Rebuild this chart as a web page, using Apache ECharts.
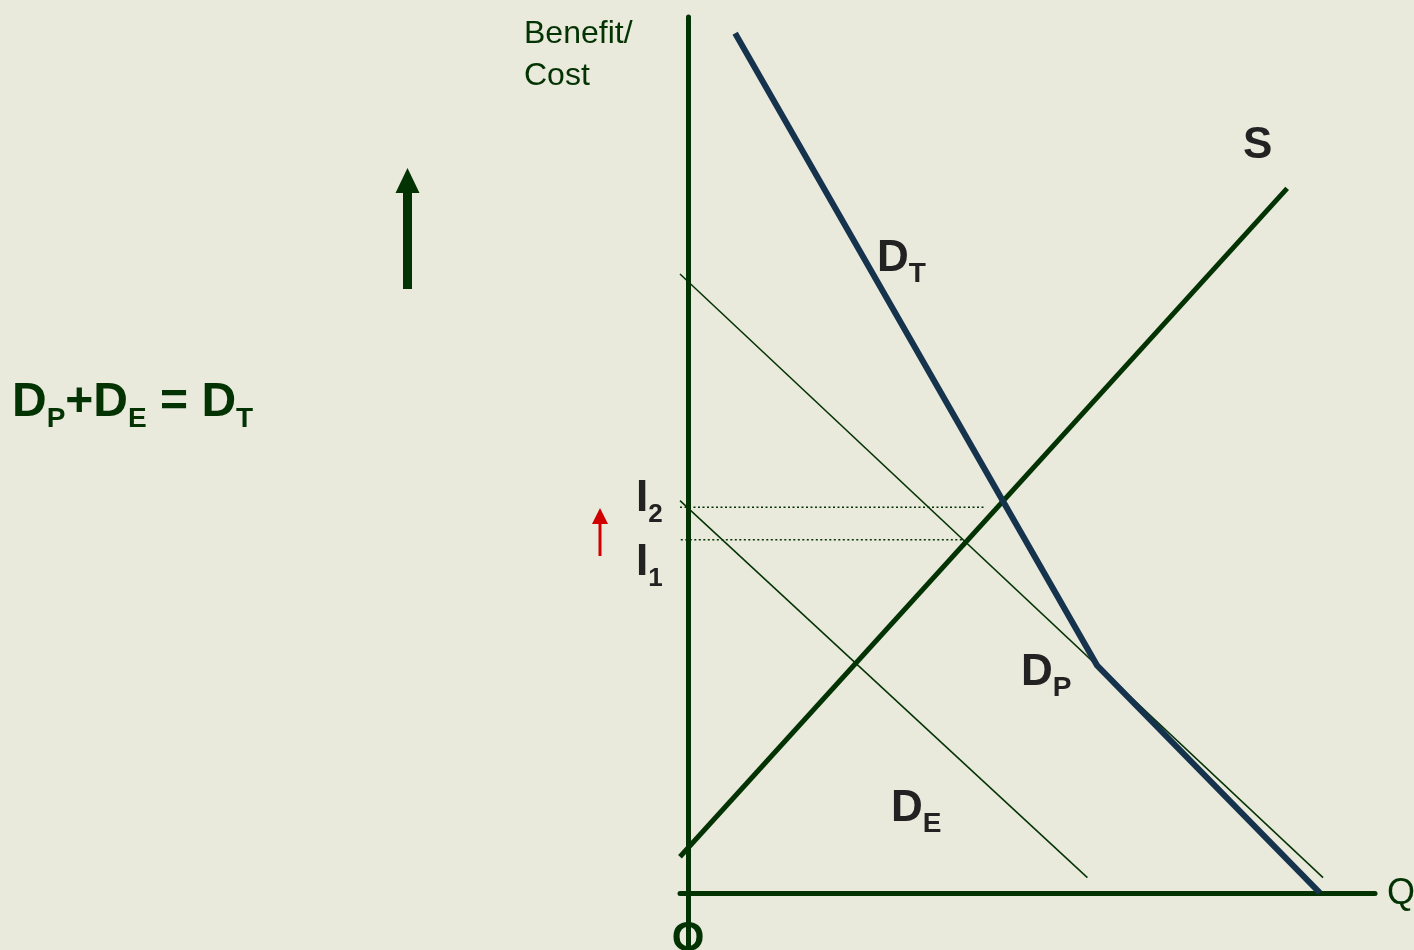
<!DOCTYPE html>
<html>
<head>
<meta charset="utf-8">
<script src="https://cdn.jsdelivr.net/npm/echarts@6/dist/echarts.min.js"></script>
<style>
  html, body { margin: 0; padding: 0; background: #e9e9dc; }
  #main { width: 1414px; height: 950px; }
</style>
</head>
<body>
<div id="main"></div>
<script>
// schematic values (Q on x, benefit/cost on y)
var qExtent = [-1, 86];
var bcExtent = [-6, 92];
var demandTotal = [[5.9, 90.3], [51.2, 23.9], [79.1, 0]];
var demandPrivate = [[-1, 65.0], [79.5, 1.6]];
var demandExternal = [[-1, 41.2], [50.0, 1.6]];
var supply = [[-1, 3.8], [75.0, 74.0]];
var level2 = [[-1, 40.5], [37.2, 40.5]];
var level1 = [[-0.9, 37.1], [34.4, 37.1]];

var GREEN = '#033303';
var NAVY = '#15334c';
var INK = '#222222';
var FONT = "'Liberation Sans', Arial, sans-serif";

var ctx = document.createElement('canvas').getContext('2d');
function textW(t, size, bold) {
    ctx.font = (bold ? 'bold ' : '') + size + 'px ' + FONT;
    return ctx.measureText(t).width;
}
// pieces: [text, size, baselineShift]
function runs(left, baseline, pieces, color, bold) {
    var out = [];
    var x = left;
    pieces.forEach(function (p) {
        out.push({
            type: 'text',
            x: x,
            y: baseline + p[2] - 0.29 * p[1],
            style: {
                text: p[0], fill: color, align: 'left', verticalAlign: 'middle',
                font: (bold ? 'bold ' : '') + p[1] + 'px ' + FONT
            },
            z: 10
        });
        x += textW(p[0], p[1], bold);
    });
    return out;
}
function arrow(cx, bottom, top, shaftW, headW, headH, color) {
    return [
        { type: 'rect', shape: { x: cx - shaftW / 2, y: top + headH - 1, width: shaftW, height: bottom - top - headH + 1 }, style: { fill: color }, z: 10 },
        { type: 'polygon', shape: { points: [[cx, top], [cx - headW / 2, top + headH], [cx + headW / 2, top + headH]] }, style: { fill: color }, z: 10 }
    ];
}

var graphics = []
    .concat(runs(12, 417, [['D', 48, 0], ['P', 28, 10], ['+D', 48, 0], ['E', 28, 10], [' = D', 48, 0], ['T', 28, 10]], GREEN, true))
    .concat(runs(877, 272, [['D', 44, 0], ['T', 28, 10]], INK, true))
    .concat(runs(1021, 686, [['D', 44, 0], ['P', 28, 10]], INK, true))
    .concat(runs(891, 822, [['D', 44, 0], ['E', 28, 10]], INK, true))
    .concat(runs(1243, 159, [['S', 44, 0]], INK, true))
    .concat(runs(636, 512, [['I', 44, 0], ['2', 26, 10]], INK, true))
    .concat(runs(636, 576, [['I', 44, 0], ['1', 26, 10]], INK, true))
    .concat(runs(524, 43, [['Benefit/', 32, 0]], GREEN, false))
    .concat(runs(524, 85, [['Cost', 32, 0]], GREEN, false))
    .concat(runs(1387, 905, [['Q', 36, 0]], GREEN, false))
    .concat(arrow(407.5, 289, 168, 9, 24, 25, GREEN))
    .concat(arrow(600, 556, 508, 3, 16, 16, '#d00000'));
graphics.push({
    type: 'text', x: 688, y: 939,
    style: { text: 'O', fill: GREEN, align: 'center', verticalAlign: 'middle', font: 'bold 42px ' + FONT },
    z: 10
});

var myChart = echarts.init(document.getElementById('main'));
var option = {
    backgroundColor: '#e9e9dc',
    animation: false,
    grid: { left: 680, right: 39, top: 17, bottom: 0, containLabel: false },
    xAxis: {
        type: 'value', min: qExtent[0], max: qExtent[1],
        axisLine: { show: true, onZero: true, lineStyle: { color: GREEN, width: 5 } },
        axisTick: { show: false }, axisLabel: { show: false }, splitLine: { show: false }
    },
    yAxis: {
        type: 'value', min: bcExtent[0], max: bcExtent[1],
        axisLine: { show: true, onZero: true, lineStyle: { color: GREEN, width: 5 } },
        axisTick: { show: false }, axisLabel: { show: false }, splitLine: { show: false }
    },
    series: [
        { name: 'I2', type: 'line', data: level2, symbol: 'none', clip: false,
          lineStyle: { color: GREEN, width: 1.5, type: [2, 2.5] } },
        { name: 'I1', type: 'line', data: level1, symbol: 'none', clip: false,
          lineStyle: { color: GREEN, width: 1.5, type: [2, 2.5] } },
        { name: 'DP', type: 'line', data: demandPrivate, symbol: 'none', clip: false,
          lineStyle: { color: GREEN, width: 1.5 } },
        { name: 'DE', type: 'line', data: demandExternal, symbol: 'none', clip: false,
          lineStyle: { color: GREEN, width: 1.5 } },
        { name: 'S', type: 'line', data: supply, symbol: 'none', clip: false,
          lineStyle: { color: GREEN, width: 5 } },
        { name: 'DT', type: 'line', data: demandTotal, symbol: 'none', clip: false,
          lineStyle: { color: NAVY, width: 6, join: 'miter' } }
    ],
    graphic: graphics
};
myChart.setOption(option);
</script>
</body>
</html>
